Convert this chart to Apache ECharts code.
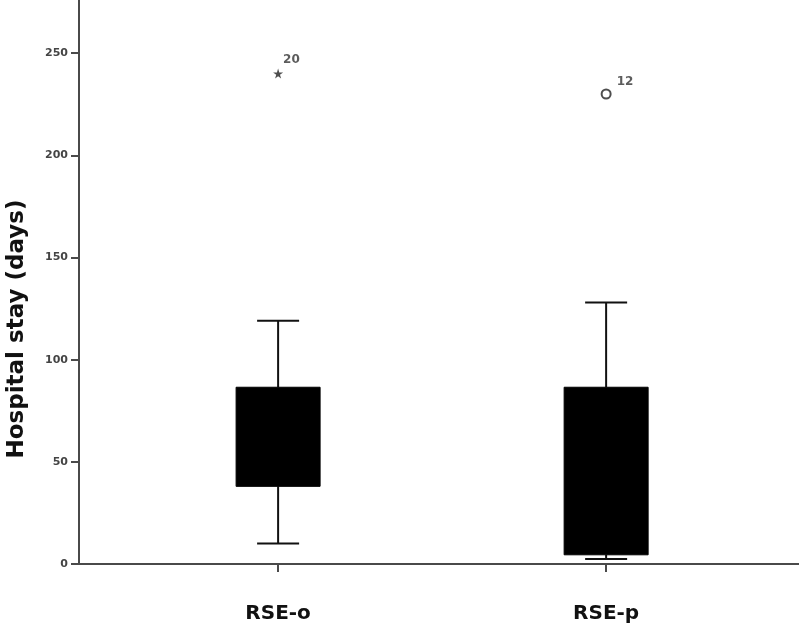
<!DOCTYPE html>
<html lang="en">
<head>
    <meta charset="UTF-8">
    <script type="text/javascript" src="https://cdn.jsdelivr.net/npm/echarts@6/dist/echarts.min.js"></script>
    <style>
        html, body { margin: 0; padding: 0; background: #fff; }
        #HospitalStayChart { width: 799px; height: 630px; }
    </style>
</head>
<body>
    <div id="HospitalStayChart"></div>
</body>

<script>
    // groups and where they sit on the x axis
    var groupNames = ["RSE-o", "RSE-p"];
    var groupPos = [1, 2];
    // box values: lower whisker, Q1, Q3, upper whisker
    var lowerWhisker = [10, 2.5];
    var q1Values = [38, 4.5];
    var q3Values = [86.5, 86.5];
    var upperWhisker = [119, 128];
    // outliers
    var outlierGroup = [1, 2];
    var outlierValues = [240, 230];
    var outlierIds = ["20", "12"];
    // y ticks
    var yTicks = [0, 50, 100, 150, 200, 250];

    var chart = echarts.init(document.getElementById("HospitalStayChart"));

    var boxData = [];
    for (var i = 0; i < groupNames.length; i++) {
        boxData.push([groupPos[i], lowerWhisker[i], q1Values[i], q3Values[i], upperWhisker[i]]);
    }

    function renderBox(params, api) {
        var x = api.value(0);
        var pLow = api.coord([x, api.value(1)]);
        var pQ1 = api.coord([x, api.value(2)]);
        var pQ3 = api.coord([x, api.value(3)]);
        var pHigh = api.coord([x, api.value(4)]);
        var cx = pLow[0];
        var halfBox = 42, halfCap = 21;
        var lineStyle = { stroke: "#111", lineWidth: 2 };
        return {
            type: "group",
            children: [
                { type: "line", shape: { x1: cx, y1: pHigh[1], x2: cx, y2: pQ3[1] }, style: lineStyle },
                { type: "line", shape: { x1: cx, y1: pQ1[1], x2: cx, y2: pLow[1] }, style: lineStyle },
                { type: "line", shape: { x1: cx - halfCap, y1: pHigh[1], x2: cx + halfCap, y2: pHigh[1] }, style: lineStyle },
                { type: "line", shape: { x1: cx - halfCap, y1: pLow[1], x2: cx + halfCap, y2: pLow[1] }, style: lineStyle },
                { type: "rect", shape: { x: cx - halfBox, y: pQ3[1], width: halfBox * 2, height: pQ1[1] - pQ3[1] },
                  style: { fill: "#000", stroke: "#000", lineWidth: 1 } }
            ]
        };
    }

    var starPath = "path://M50,0 L61,35 L98,35 L68,57 L79,91 L50,70 L21,91 L32,57 L2,35 L39,35 Z";
    var outlierSymbols = [starPath, "emptyCircle"];
    var labelOffsets = [[-5, -14], [0, -12]];
    var outlierData = [];
    for (var j = 0; j < outlierValues.length; j++) {
        outlierData.push({
            value: [outlierGroup[j], outlierValues[j]],
            symbol: outlierSymbols[j],
            symbolSize: j === 0 ? 10 : 9,
            label: { offset: labelOffsets[j] }
        });
    }

    var option = {
        animation: false,
        grid: { left: 79, right: 0, top: 0, bottom: 66 },
        xAxis: {
            type: "value",
            min: 0.393,
            max: 2.588,
            splitLine: { show: false },
            axisLine: { show: true, lineStyle: { color: "#4a4a4a", width: 2 } },
            axisTick: { show: true, customValues: groupPos, length: 8, lineStyle: { color: "#4a4a4a", width: 2 } },
            axisLabel: {
                customValues: groupPos,
                margin: 40,
                formatter: function (v) { return groupNames[groupPos.indexOf(v)] || ""; },
                fontFamily: "DejaVu Sans", fontWeight: "bold", fontSize: 20, color: "#111"
            }
        },
        yAxis: {
            type: "value",
            min: 0,
            max: 276,
            splitLine: { show: false },
            axisLine: { show: true, lineStyle: { color: "#4a4a4a", width: 2 } },
            axisTick: { show: true, customValues: yTicks, length: 8, lineStyle: { color: "#4a4a4a", width: 2 } },
            axisLabel: {
                customValues: yTicks,
                margin: 11,
                fontFamily: "DejaVu Sans", fontWeight: "bold", fontSize: 11, color: "#444"
            }
        },
        graphic: [{
            type: "text",
            x: 17, y: 329,
            rotation: Math.PI / 2,
            style: {
                text: "Hospital stay (days)",
                fontFamily: "DejaVu Sans", fontWeight: "bold", fontSize: 23, fill: "#111",
                align: "center", verticalAlign: "middle"
            }
        }],
        series: [
            {
                type: "custom",
                renderItem: renderBox,
                data: boxData,
                encode: { x: 0, y: [1, 2, 3, 4] }
            },
            {
                type: "scatter",
                data: outlierData,
                itemStyle: { color: "#222", borderWidth: 2 },
                label: {
                    show: true,
                    position: "right",
                    formatter: function (p) { return outlierIds[p.dataIndex]; },
                    fontFamily: "DejaVu Sans", fontWeight: "bold", fontSize: 12, color: "#333"
                }
            }
        ]
    };

    chart.setOption(option);
</script>
</html>
